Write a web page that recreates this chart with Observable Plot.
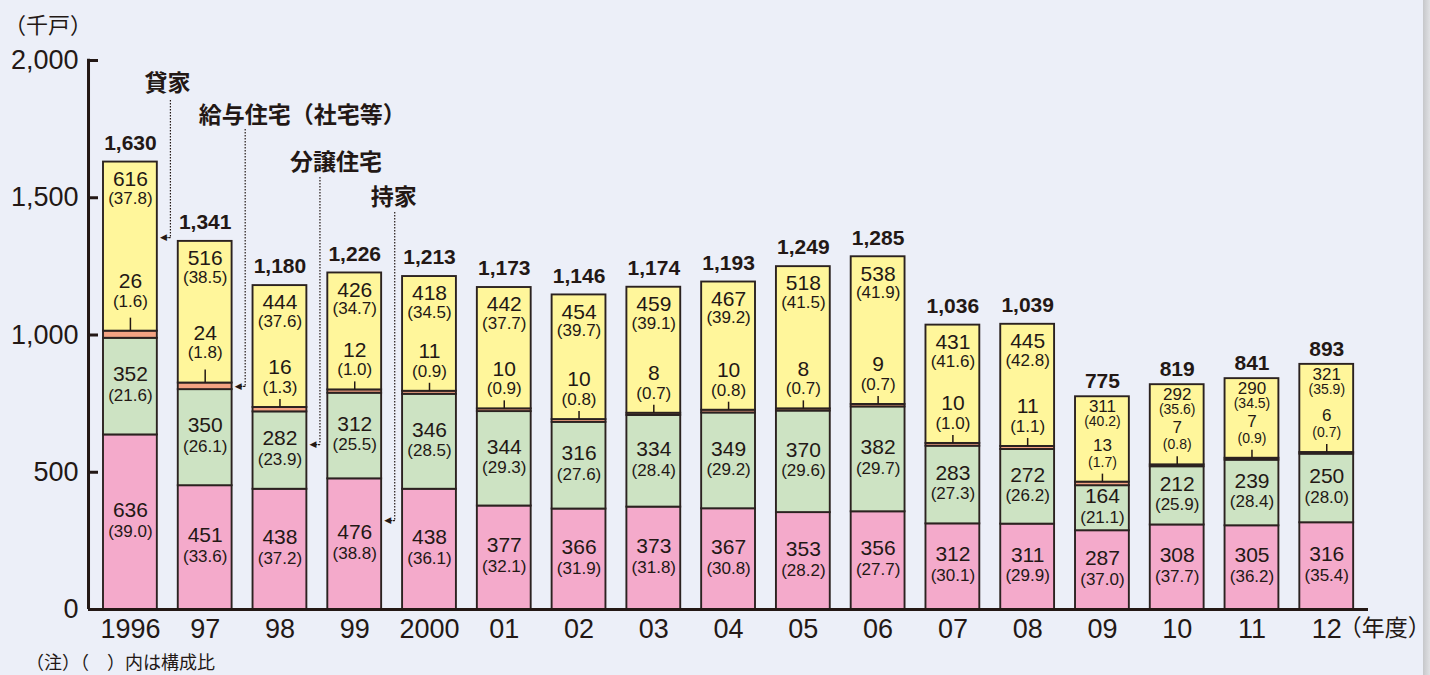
<!DOCTYPE html>
<html><head><meta charset="utf-8">
<script src="https://cdn.jsdelivr.net/npm/d3@7"></script>
<script src="https://cdn.jsdelivr.net/npm/@observablehq/plot@0.6"></script>
<style>
html,body{margin:0;padding:0;background:#eceff8;width:1430px;height:675px;overflow:hidden;}
#wrap{position:relative;width:1430px;height:675px;}
#unit{position:absolute;left:4px;top:12px;font:22px "Noto Sans CJK JP";color:#231815;line-height:1;}
#chart{position:absolute;left:0;top:40px;}
#note{position:absolute;left:26px;top:652px;font:18px "Noto Sans CJK JP";color:#231815;line-height:1;}
#edge{position:absolute;right:0;top:0;width:7px;height:675px;background:linear-gradient(to right,#c6c7ca,#e0e1e4);}
</style></head>
<body><div id="wrap">
<div id="unit">（千戸）</div>
<div id="chart"></div>
<div id="note">（注）（　）内は構成比</div>
<div id="edge"></div>
</div>
<script>
// ---- data ----
const years = ["1996","97","98","99","2000","01","02","03","04","05","06","07","08","09","10","11","12"];
const owner      = [636,451,438,476,438,377,366,373,367,353,356,312,311,287,308,305,316];
const ownerPct   = [39.0,33.6,37.2,38.8,36.1,32.1,31.9,31.8,30.8,28.2,27.7,30.1,29.9,37.0,37.7,36.2,35.4];
const condo      = [352,350,282,312,346,344,316,334,349,370,382,283,272,164,212,239,250];
const condoPct   = [21.6,26.1,23.9,25.5,28.5,29.3,27.6,28.4,29.2,29.6,29.7,27.3,26.2,21.1,25.9,28.4,28.0];
const company    = [26,24,16,12,11,10,10,8,10,8,9,10,11,13,7,7,6];
const companyPct = [1.6,1.8,1.3,1.0,0.9,0.9,0.8,0.7,0.8,0.7,0.7,1.0,1.1,1.7,0.8,0.9,0.7];
const rental     = [616,516,444,426,418,442,454,459,467,518,538,431,445,311,292,290,321];
const rentalPct  = [37.8,38.5,37.6,34.7,34.5,37.7,39.7,39.1,39.2,41.5,41.9,41.6,42.8,40.2,35.6,34.5,35.9];
const totals     = [1630,1341,1180,1226,1213,1173,1146,1174,1193,1249,1285,1036,1039,775,819,841,893];
const seriesNames = ["持家","分譲住宅","給与住宅（社宅等）","貸家"];
const seriesColors = ["#f4aacb","#cde3c3","#f4a383","#fff69b"];
const yTicks = [0,500,1000,1500,2000];
const annoLabels = ["貸家","給与住宅（社宅等）","分譲住宅","持家"];
const annoTargets = ["1996","97","98","99"];

// ---- layout ----
const ink = "#231815";
const W = 1430, H = 608, mT = 20, mB = 39, mL = 88, mR = 62;
const pxPerUnit = (H - mT - mB) / 2000;
const u = px => px / pxPerUnit;
const num = "Liberation Sans, Arial, sans-serif";
const cjk = "Noto Sans CJK JP, sans-serif";
const xRange = [82.06, 1374.1];

const seriesVals = [owner, condo, company, rental];
const bars = [];
seriesNames.forEach((s, k) => years.forEach((y, i) => bars.push({year: y, series: s, value: seriesVals[k][i]})));

const rows = years.map((y, i) => ({
  year: y, i,
  owner: owner[i], ownerPct: ownerPct[i], condo: condo[i], condoPct: condoPct[i],
  company: company[i], companyPct: companyPct[i], rental: rental[i], rentalPct: rentalPct[i],
  total: totals[i],
  compact: totals[i] < 900,
  bigCompany: company[i] >= 20
}));
const pct = v => `(${v.toFixed(1)})`;
const fmt = d3.format(",");

// annotation geometry (y in data units)
const annoGeo = [
  {labelY: 1916, top: 1854, arrowY: 1355, dx: 37},
  {labelY: 1800, top: 1749, arrowY: 813,  dx: 97},
  {labelY: 1628, top: 1574, arrowY: 601,  dx: 56},
  {labelY: 1501, top: 1446, arrowY: 324,  dx: 39}
];
const annos = annoLabels.map((l, k) => ({
  label: l, year: annoTargets[k],
  next: years[years.indexOf(annoTargets[k]) + 1], ...annoGeo[k]
}));

function txt(filter, y, text, dy, size, extra = {}) {
  return Plot.text(rows, {x: "year", y, text, dy, fontSize: size, fill: ink, fontFamily: num, filter, ...extra});
}
const N = d => !d.compact, C = d => d.compact;
const compTop = d => d.owner + d.condo + d.company;

const marks = [
  Plot.barY(bars, {x: "year", y: "value", fill: "series", stroke: "#2b2220", strokeWidth: 1.9}),
  // owner labels
  txt(null, d => d.owner / 2, "owner", -12, 21),
  txt(null, d => d.owner / 2, d => pct(d.ownerPct), 9, 17),
  // condo labels
  txt(null, d => d.owner + d.condo / 2, "condo", -12, 21),
  txt(null, d => d.owner + d.condo / 2, d => pct(d.condoPct), 9, 17),
  // company labels
  txt(d => N(d) && !d.bigCompany, compTop, "company", -40, 21),
  txt(d => N(d) && !d.bigCompany, compTop, d => pct(d.companyPct), -20, 17),
  txt(d => N(d) && d.bigCompany, compTop, "company", -50, 21),
  txt(d => N(d) && d.bigCompany, compTop, d => pct(d.companyPct), -30, 17),
  txt(C, compTop, "company", -37, 17),
  txt(C, compTop, d => pct(d.companyPct), -20, 14),
  Plot.ruleX(rows, {x: "year", y1: compTop, y2: d => compTop(d) + u(d.bigCompany ? 13 : 8), stroke: ink, strokeWidth: 1.5}),
  // rental labels
  txt(N, "total", "rental", 17, 21),
  txt(N, "total", d => pct(d.rentalPct), 36, 17),
  txt(C, "total", "rental", 10, 17),
  txt(C, "total", d => pct(d.rentalPct), 25, 14),
  // totals
  txt(N, "total", d => fmt(d.total), -19, 21, {fontWeight: "bold"}),
  txt(C, "total", d => fmt(d.total), -15, 21, {fontWeight: "bold"}),
  // axes
  Plot.ruleY([0], {strokeWidth: 3, stroke: ink}),
  Plot.ruleX([years[0]], {x: d => d, y1: 0, y2: 2005, dx: -41.9, strokeWidth: 3, stroke: ink}),
  Plot.tickY(yTicks, {x: () => years[0], y: d => d, dx: -15, insetRight: 43.8, strokeWidth: 3, stroke: ink}),
  Plot.axisY({ticks: yTicks, tickSize: 0, tickPadding: 10, tickFormat: d => fmt(d), fontSize: 27, label: null, fontFamily: num}),
  Plot.axisX({tickSize: 0, tickPadding: 9, fontSize: 27, label: null, fontFamily: num}),
  Plot.text([years[years.length - 1]], {x: d => d, y: 0, dy: 19, dx: 12, text: () => "（年度）", textAnchor: "start", fontSize: 23, fontFamily: cjk, fill: ink}),
  // annotations
  Plot.ruleX(annos, {x: "year", y1: "top", y2: "arrowY", dx: 40, stroke: ink, strokeWidth: 1.2, strokeDasharray: "1.5,1.5"}),
  Plot.arrow(annos, {x1: "next", x2: "year", y1: "arrowY", y2: "arrowY", insetStart: 35, insetEnd: 34, headLength: 0, stroke: ink, strokeWidth: 1.2, strokeDasharray: "1.5,1.5"}),
  Plot.text(annos, {x: "year", y: "arrowY", text: () => "◀", dx: 33, fontSize: 9, fontFamily: "DejaVu Sans", fill: ink}),
  ...annos.map(a => Plot.text([a], {x: "year", y: "labelY", text: "label", dx: a.dx, fontSize: 23, fontWeight: "bold", fontFamily: cjk, fill: ink}))
];

const chart = Plot.plot({
  width: W, height: H,
  marginTop: mT, marginBottom: mB, marginLeft: mL, marginRight: mR,
  style: {background: "transparent", color: ink, fontFamily: num, overflow: "visible"},
  x: {type: "band", domain: years, padding: 0.28, align: 0.5, range: xRange, round: false},
  y: {domain: [0, 2000]},
  color: {domain: seriesNames, range: seriesColors},
  marks
});
document.getElementById("chart").appendChild(chart);
</script>
</body></html>
